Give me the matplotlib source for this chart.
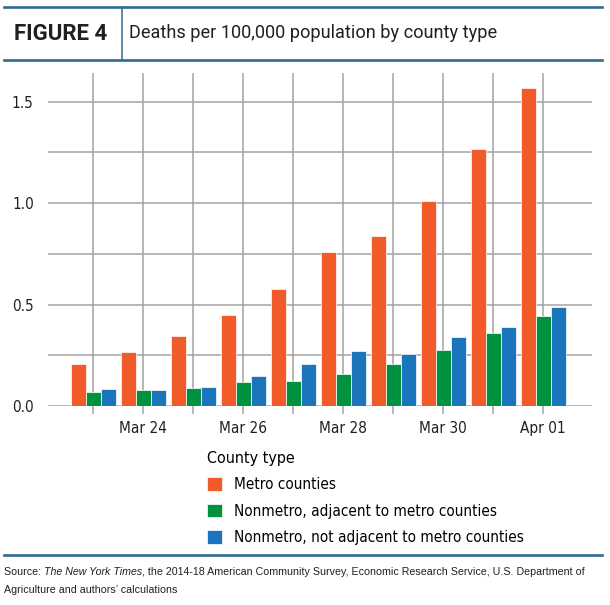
import matplotlib
matplotlib.use("Agg")
from matplotlib import pyplot as plt
from matplotlib.lines import Line2D
from matplotlib.patches import Patch
import numpy as np

# data
dates = ['Mar 23', 'Mar 24', 'Mar 25', 'Mar 26', 'Mar 27',
         'Mar 28', 'Mar 29', 'Mar 30', 'Mar 31', 'Apr 01']
metro = [0.207, 0.265, 0.345, 0.449, 0.576, 0.757, 0.837, 1.010, 1.265, 1.566]
nonmetro_adj = [0.067, 0.077, 0.087, 0.117, 0.125, 0.158, 0.207, 0.276, 0.359, 0.446]
nonmetro_nonadj = [0.084, 0.077, 0.095, 0.148, 0.207, 0.270, 0.258, 0.339, 0.388, 0.489]
series_names = ['Metro counties',
                'Nonmetro, adjacent to metro counties',
                'Nonmetro, not adjacent to metro counties']
colors = ['#f15a29', '#00923f', '#1b75bc']

NARROW = ['DejaVu Sans']
RULE = '#2f6a90'
GRID = '#a3a3a3'

W, H = 610, 605
fig = plt.figure(figsize=(W / 100, H / 100), dpi=100)
fig.patch.set_facecolor('white')

def fx(px):
    return px / W

def fy(py):
    return 1 - py / H

# header rules and title
for y in (6.7, 60):
    fig.add_artist(Line2D([fx(4), fx(602)], [fy(y), fy(y)], color=RULE, lw=1.9))
fig.add_artist(Line2D([fx(121.7), fx(121.7)], [fy(6.7), fy(60)], color=RULE, lw=1.1))
fig.text(fx(14), fy(33.5), 'FIGURE 4', family=['Roboto', 'DejaVu Sans'], weight='bold',
         fontsize=16, color='#231f20', va='center', ha='left')
fig.text(fx(129), fy(33.5), 'Deaths per 100,000 population by county type',
         family=['Roboto', 'DejaVu Sans'], fontsize=13.1, color='#231f20', va='center', ha='left')

# main axes
ax = fig.add_axes([fx(47.7), fy(406), fx(591.7) - fx(47.7), fy(72.7) - fy(406)])
x = np.arange(len(dates))
bw = 0.3
all_series = [metro, nonmetro_adj, nonmetro_nonadj]
for i, (vals, c, name) in enumerate(zip(all_series, colors, series_names)):
    ax.bar(x + (i - 1) * bw, vals, width=bw, color=c, edgecolor='white',
           linewidth=0.5, label=name, zorder=3)

ax.set_xlim(-0.91, 9.97)
ax.set_ylim(0, 1.643)
ax.set_xticks(x)
ax.set_xticklabels([d if i % 2 == 1 else '' for i, d in enumerate(dates)])
ax.set_yticks([0, 0.5, 1.0, 1.5])
ax.set_yticklabels(['0.0', '0.5', '1.0', '1.5'])
ax.set_yticks([0.25, 0.75, 1.25], minor=True)
ax.grid(True, which='both', axis='both', color=GRID, lw=1.1, zorder=0)
ax.set_axisbelow(True)
for s in ax.spines.values():
    s.set_visible(False)
ax.tick_params(axis='x', length=6, width=1.1, color=GRID, pad=5, labelsize=11, labelcolor='#231f20')
ax.tick_params(axis='y', which='both', length=0, pad=10, labelsize=11, labelcolor='#231f20')
for lab in ax.get_xticklabels() + ax.get_yticklabels():
    lab.set_family(NARROW)
    lab.set_stretch('condensed')

# legend
handles = [Patch(facecolor=c, edgecolor='white', linewidth=0.5) for c in colors]
leg = fig.legend(handles, series_names, title='County type', loc='upper left',
                 bbox_to_anchor=(fx(193), fy(437)), frameon=False, alignment='left',
                 prop={'family': NARROW, 'size': 11, 'stretch': 'condensed'},
                 title_fontproperties={'family': NARROW, 'size': 11.5, 'stretch': 'condensed'},
                 handlelength=1.0, handleheight=1.0, handletextpad=0.8, labelspacing=0.75)

# bottom rule and source note
fig.add_artist(Line2D([fx(4), fx(602)], [fy(555), fy(555)], color=RULE, lw=1.9))
src_font = ['Liberation Sans', 'DejaVu Sans']
fig.canvas.draw()
r = fig.canvas.get_renderer()
xpos = fx(4)
for txt, style in [('Source: ', 'normal'), ('The New York Times', 'italic'),
                   (', the 2014-18 American Community Survey, Economic Research Service, U.S. Department of', 'normal')]:
    t = fig.text(xpos, fy(572), txt, family=src_font, style=style, fontsize=7.7,
                 color='#231f20', va='center', ha='left')
    bb = t.get_window_extent(r)
    xpos += bb.width / W
fig.text(fx(4), fy(590), "Agriculture and authors\u2019 calculations", family=src_font, fontsize=7.7,
         color='#231f20', va='center', ha='left')

fig.savefig('out.png', dpi=100, facecolor='white')
